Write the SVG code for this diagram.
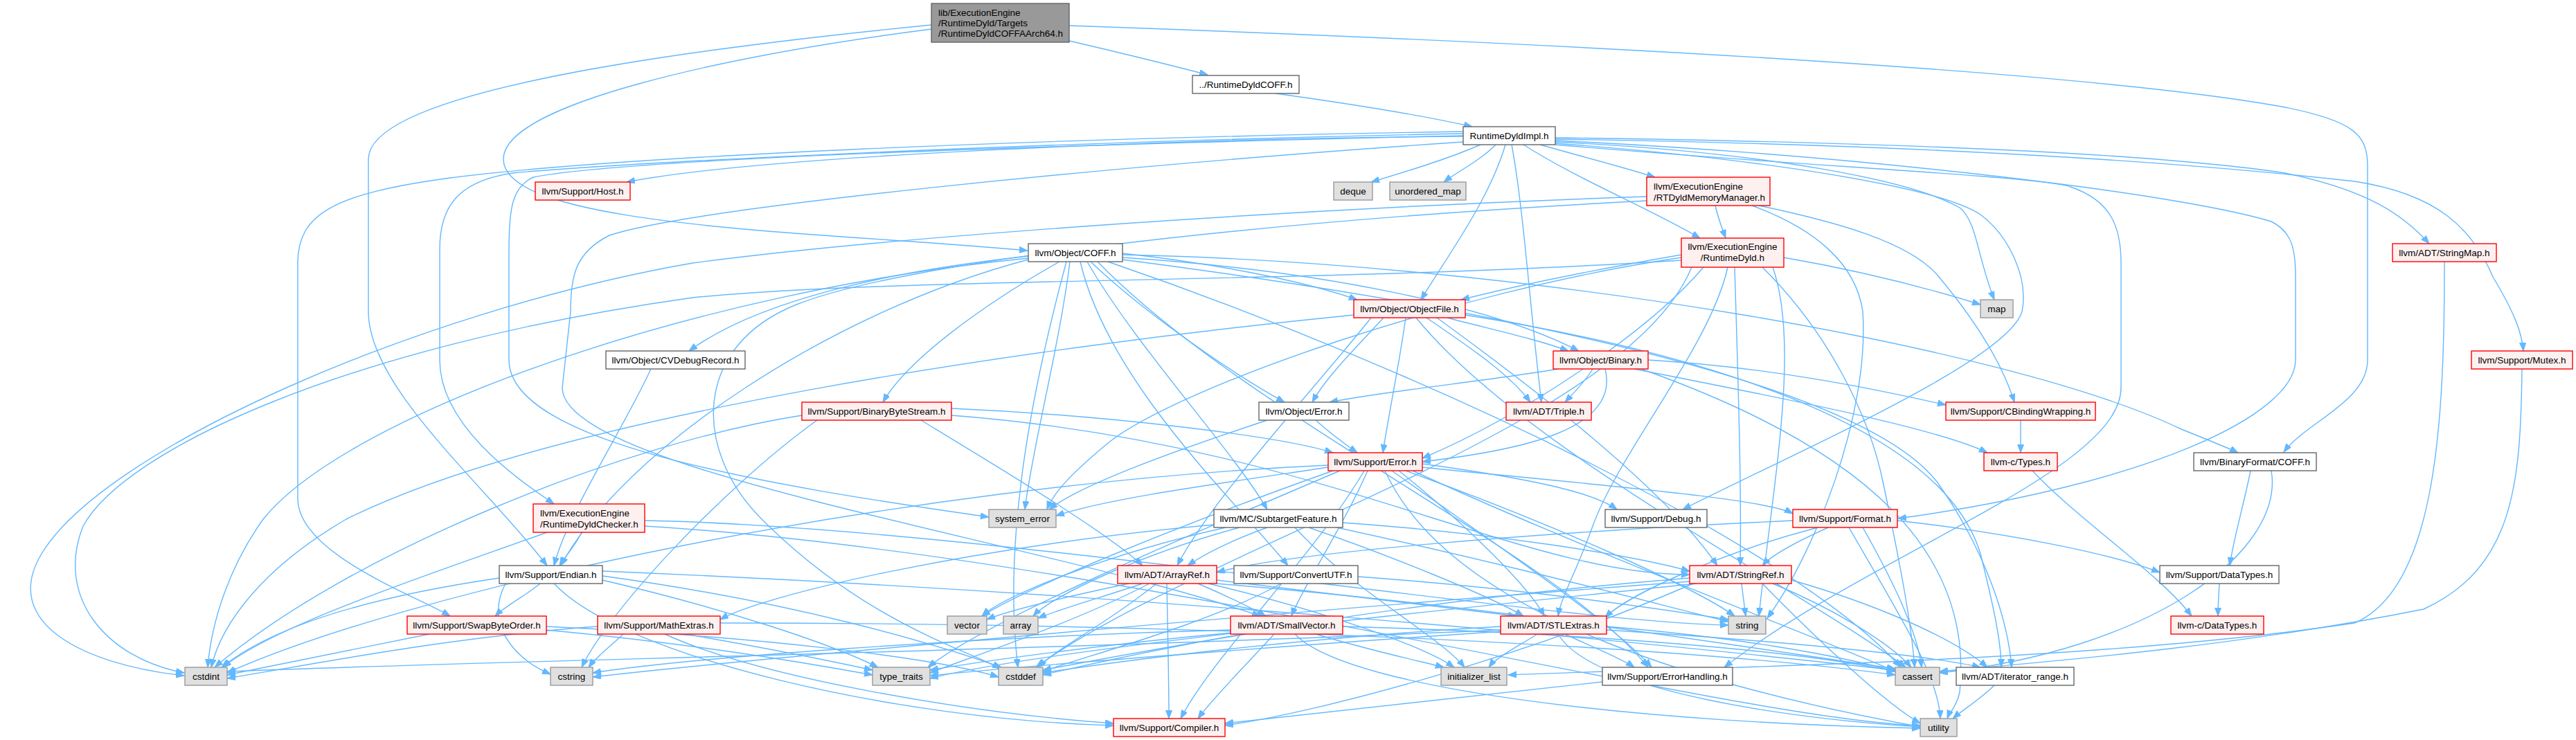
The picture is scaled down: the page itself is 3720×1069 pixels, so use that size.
<svg xmlns="http://www.w3.org/2000/svg" width="3720" height="1069" viewBox="0 0 3720 1069">
<defs>
<style>
.e path{fill:none;stroke:#63b8ff;stroke-width:1.4;marker-end:url(#a)}
.n rect{fill:#fff;stroke:#666;stroke-width:1.4}
.r rect{fill:#fff0f0;stroke:#f00;stroke-width:1.4}
.g rect{fill:#e0e0e0;stroke:#999;stroke-width:1.4}
.o rect{fill:#999;stroke:#666;stroke-width:1.4}
text{font-family:"Liberation Sans",Arial,Helvetica,sans-serif;font-size:13.5px;fill:#000;text-anchor:middle}
text.l{text-anchor:start}
</style>
<marker id="a" markerUnits="userSpaceOnUse" markerWidth="13" markerHeight="10" refX="12" refY="4.5" orient="auto"><path d="M0,0 L12,4.5 L0,9 z" fill="#63b8ff" stroke="#63b8ff" stroke-width="1"/></marker>
</defs>
<rect width="3720" height="1069" fill="#fff"/>
<g id="edges" class="e">
<path d="M1544,59 C1600,72 1690,94 1744,108"/>
<path d="M1544,37 C2200,60 3000,100 3300,155 C3400,175 3419,195 3419,240 L3419,520 C3419,580 3330,610 3298,653"/>
<path d="M1842,135 C1950,150 2060,168 2126,183"/>
<path d="M1345,42 C1050,80 727,150 727,230 C727,330 1200,335 1484,362"/>
<path d="M1345,36 C1000,70 532,130 532,230 L532,450 C532,560 700,700 790,817"/>
<path d="M2113,197 C1700,200 1100,225 905,263"/>
<path d="M2138,209 C2090,230 2030,248 1980,263"/>
<path d="M2160,209 C2140,230 2105,248 2085,263"/>
<path d="M2174,209 C2150,290 2090,370 2052,433"/>
<path d="M2183,209 C2200,300 2210,450 2226,581"/>
<path d="M2200,209 C2280,260 2380,300 2455,344"/>
<path d="M2224,209 C2280,225 2340,240 2390,256"/>
<path d="M2246,199 C2700,205 3100,220 3300,250 C3420,275 3470,310 3508,352"/>
<path d="M2246,201 C2700,208 3100,228 3400,262 C3520,280 3570,330 3600,400 C3630,450 3642,480 3644,507"/>
<path d="M2246,205 C2550,220 2760,260 2830,300 C2855,320 2855,370 2880,433"/>
<path d="M2246,207 C2550,230 2800,270 2860,310 C2900,340 2930,400 2920,450 C2900,520 2600,650 2430,736"/>
<path d="M2246,209 C2600,240 2950,255 2990,270 C3050,290 3063,330 3063,380 L3063,560 C3063,680 2700,800 2490,964"/>
<path d="M2246,203 C2700,225 3150,280 3280,320 C3310,335 3315,360 3315,400 L3315,520 C3315,600 3100,700 2741,749"/>
<path d="M2113,190 C1500,200 900,225 650,257 C480,280 430,310 430,380 L430,720 C430,800 600,860 650,890"/>
<path d="M2113,193 C1500,205 900,235 740,250 C660,262 635,300 635,360 L635,520 C635,620 760,700 800,728"/>
<path d="M2113,196 C1500,210 900,230 770,256 C740,270 735,300 735,360 L735,520 C735,640 1100,700 1428,747"/>
<path d="M2113,205 C1600,240 1000,300 880,340 C830,365 824,400 824,450 L812,560 C812,680 1500,780 1820,890"/>
<path d="M2477,297 C2481,315 2487,330 2492,344"/>
<path d="M2540,297 C2650,320 2760,350 2800,400 C2850,460 2890,520 2909,581"/>
<path d="M2530,297 C2620,330 2680,380 2690,450 C2700,600 2620,800 2552,893"/>
<path d="M2378,284 C1900,300 1300,340 1000,380 C600,450 150,650 60,800 C0,900 120,960 266,976"/>
<path d="M2378,290 C1800,320 1300,380 1150,440 C1000,500 1000,650 1100,750 C1250,900 1400,940 1445,966"/>
<path d="M2428,368 C2330,385 2200,410 2110,433"/>
<path d="M2428,372 C2100,420 1700,560 1600,640 C1540,690 1520,715 1512,736"/>
<path d="M2428,376 C1900,410 1300,400 1000,430 C500,500 180,650 120,760 C80,860 150,950 266,972"/>
<path d="M2443,386 C2348,617 1733,791 1496,964"/>
<path d="M2495,386 C2470,500 2340,650 2300,760 C2275,830 2255,860 2250,890"/>
<path d="M2505,386 C2510,550 2515,700 2513,817"/>
<path d="M2460,386 C2380,480 2200,600 2054,662"/>
<path d="M2576,372 C2680,390 2780,415 2860,440"/>
<path d="M2545,386 C2640,480 2700,600 2720,700 C2745,820 2760,900 2765,964"/>
<path d="M2560,386 C2600,500 2560,700 2540,890"/>
<path d="M1485,370 C1300,390 1100,430 995,507"/>
<path d="M1530,378 C1420,440 1310,520 1275,581"/>
<path d="M1575,378 C1650,450 1780,540 1855,581"/>
<path d="M1621,366 C1750,380 1880,405 1960,433"/>
<path d="M1621,372 C1900,390 2150,440 2280,507"/>
<path d="M1621,368 C2200,380 2900,500 3150,620 C3200,640 3220,648 3232,654"/>
<path d="M1621,375 C2200,450 2700,560 2800,700 C2870,800 2900,900 2905,964"/>
<path d="M1560,378 C1600,550 1780,720 1860,817"/>
<path d="M1570,378 C1640,500 1780,650 1830,736"/>
<path d="M1585,378 C1800,600 2250,800 2380,964"/>
<path d="M1485,375 C1200,450 900,650 810,817"/>
<path d="M1485,373 C1000,420 500,600 380,750 C330,820 305,900 300,964"/>
<path d="M1540,378 C1480,600 1450,800 1470,964"/>
<path d="M1545,378 C1530,500 1490,650 1480,736"/>
<path d="M1600,378 C2100,550 2600,800 2745,964"/>
<path d="M2090,459 C2150,475 2220,490 2265,507"/>
<path d="M1998,459 C1960,500 1915,545 1895,581"/>
<path d="M2030,459 C2020,530 2005,600 1997,654"/>
<path d="M2060,459 C2120,500 2180,540 2210,581"/>
<path d="M1980,459 C1900,560 1750,720 1700,817"/>
<path d="M2075,459 C2200,550 2400,700 2480,817"/>
<path d="M2116,455 C2400,500 2800,600 2860,800 C2880,880 2890,930 2890,964"/>
<path d="M2045,459 C2200,650 2600,850 2752,964"/>
<path d="M1955,455 C1500,500 800,600 500,750 C380,820 320,900 305,964"/>
<path d="M2250,533 C2150,550 2000,565 1920,581"/>
<path d="M2300,533 C2290,550 2275,565 2260,581"/>
<path d="M2318,533 C2340,620 2200,650 2054,667"/>
<path d="M2380,520 C2550,530 2700,560 2810,585"/>
<path d="M2360,533 C2600,580 2800,620 2870,654"/>
<path d="M2370,533 C2700,650 2850,800 2830,1000 C2826,1020 2815,1030 2812,1038"/>
<path d="M1900,607 C1920,625 1940,640 1960,654"/>
<path d="M1830,607 C1700,650 1560,700 1515,736"/>
<path d="M940,533 C900,620 820,740 800,817"/>
<path d="M1158,600 C900,640 500,800 310,964"/>
<path d="M1180,607 C1050,700 880,880 840,964"/>
<path d="M1330,607 C1450,680 1600,770 1650,817"/>
<path d="M1374,600 C1900,640 2190,830 2440,830"/>
<path d="M1374,590 C1600,600 1850,630 1925,654"/>
<path d="M2918,607 C2918,625 2918,640 2918,654"/>
<path d="M2935,680 C3000,750 3120,830 3165,890"/>
<path d="M3250,680 C3240,730 3225,780 3220,817"/>
<path d="M3280,680 C3300,800 3100,940 2801,972"/>
<path d="M3205,843 C3204,860 3203,875 3203,890"/>
<path d="M1918,675 C1750,700 1600,720 1525,745"/>
<path d="M2054,670 C2200,690 2300,710 2335,736"/>
<path d="M2054,675 C2300,700 2550,720 2589,742"/>
<path d="M1918,672 C1300,700 600,850 328,972"/>
<path d="M1970,680 C1900,800 1750,950 1705,1038"/>
<path d="M2010,680 C2150,780 2330,900 2385,964"/>
<path d="M2040,680 C2300,800 2650,930 2737,970"/>
<path d="M2030,680 C2250,760 2450,850 2505,890"/>
<path d="M1935,680 C1700,780 1420,900 1340,964"/>
<path d="M2000,680 C2100,900 2500,1000 2773,1050"/>
<path d="M1925,680 C1700,760 1480,850 1418,890"/>
<path d="M1975,680 C1940,760 1880,850 1865,890"/>
<path d="M2020,680 C2120,760 2210,850 2230,890"/>
<path d="M840,769 C830,790 815,805 808,817"/>
<path d="M790,769 C650,820 400,900 322,964"/>
<path d="M931,752 C1400,760 2250,900 2496,903"/>
<path d="M931,760 C1600,800 2500,1040 2773,1048"/>
<path d="M1830,762 C1780,780 1740,800 1715,817"/>
<path d="M1890,762 C2000,800 2150,860 2200,890"/>
<path d="M1939,755 C2150,770 2350,800 2440,825"/>
<path d="M1753,758 C1400,790 1100,860 1040,895"/>
<path d="M1790,762 C1650,800 1520,860 1492,890"/>
<path d="M1770,762 C1600,800 1450,860 1418,890"/>
<path d="M1870,762 C1950,850 2080,920 2115,964"/>
<path d="M1930,762 C2200,820 2420,880 2496,898"/>
<path d="M2589,752 C2200,770 1850,800 1757,827"/>
<path d="M2640,762 C2600,780 2560,800 2545,817"/>
<path d="M2625,762 C2480,800 2350,860 2318,892"/>
<path d="M2740,752 C2900,770 3050,800 3119,827"/>
<path d="M2690,762 C2740,850 2770,920 2775,964"/>
<path d="M2670,762 C2750,900 2800,980 2802,1038"/>
<path d="M780,843 C760,860 730,875 715,890"/>
<path d="M721,835 C550,860 400,900 320,964"/>
<path d="M730,843 C700,900 740,950 795,974"/>
<path d="M800,843 C900,950 1300,1040 1608,1048"/>
<path d="M870,838 C1050,880 1200,930 1268,964"/>
<path d="M870,832 C1150,870 1350,930 1446,964"/>
<path d="M870,825 C1700,860 2400,930 2737,968"/>
<path d="M1630,843 C1550,860 1460,880 1425,895"/>
<path d="M1650,843 C1600,860 1530,880 1499,893"/>
<path d="M1660,843 C1550,900 1400,950 1343,972"/>
<path d="M1670,843 C1600,900 1520,940 1500,964"/>
<path d="M1685,843 C1686,900 1688,980 1688,1038"/>
<path d="M1730,843 C1770,860 1810,880 1828,890"/>
<path d="M1757,838 C1950,860 2100,880 2190,890"/>
<path d="M1757,843 C2200,880 2550,940 2737,966"/>
<path d="M1745,843 C1900,880 2050,930 2100,964"/>
<path d="M1850,843 C1750,900 1560,950 1506,970"/>
<path d="M1961,833 C2200,850 2400,880 2496,895"/>
<path d="M2515,843 C2517,860 2519,875 2521,890"/>
<path d="M2587,838 C2700,870 2820,920 2870,964"/>
<path d="M2445,843 C2200,950 1900,1030 1769,1048"/>
<path d="M2560,843 C2650,880 2730,930 2760,964"/>
<path d="M2440,835 C2000,870 1700,930 1506,975"/>
<path d="M2440,840 C1900,880 1100,950 856,978"/>
<path d="M2450,843 C2000,890 1500,940 1343,980"/>
<path d="M2545,843 C2650,950 2730,1020 2773,1045"/>
<path d="M620,916 C500,940 400,960 328,975"/>
<path d="M789,910 C1000,930 1150,955 1260,975"/>
<path d="M789,905 C1100,920 1350,950 1442,978"/>
<path d="M863,905 C650,920 450,960 328,980"/>
<path d="M900,916 C880,935 860,950 850,964"/>
<path d="M990,916 C1100,935 1200,955 1260,968"/>
<path d="M960,916 C1100,980 1400,1030 1608,1045"/>
<path d="M1040,900 C1700,900 2400,930 2737,975"/>
<path d="M1840,916 C1800,960 1750,1010 1730,1038"/>
<path d="M1939,905 C2300,915 2600,940 2737,970"/>
<path d="M1800,916 C1650,940 1550,960 1506,968"/>
<path d="M1777,910 C1400,920 1000,950 856,972"/>
<path d="M1900,916 C1980,940 2050,955 2085,964"/>
<path d="M1780,914 C1600,930 1420,955 1343,968"/>
<path d="M1870,916 C1950,1000 2400,1045 2773,1052"/>
<path d="M2220,916 C2190,935 2160,950 2150,964"/>
<path d="M2260,916 C2300,935 2340,950 2360,964"/>
<path d="M2320,905 C2500,920 2650,945 2737,970"/>
<path d="M2320,910 C2550,925 2780,945 2860,964"/>
<path d="M2167,905 C1900,920 1650,950 1506,972"/>
<path d="M2167,910 C1500,940 700,955 328,970"/>
<path d="M2170,912 C1900,930 1500,960 1343,976"/>
<path d="M2250,916 C2300,1000 2600,1040 2773,1050"/>
<path d="M2314,985 C2100,1010 1900,1030 1769,1045"/>
<path d="M2880,990 C2860,1010 2835,1025 2820,1038"/>
<path d="M3530,378 C3530,600 3520,850 3400,900 C3000,960 2400,965 2178,975"/>
<path d="M3642,533 C3640,700 3630,820 3500,880 C3200,940 2900,960 2801,970"/>
</g>
<g id="node1" class="o"><rect x="1345" y="5" width="199" height="56"/><text class="l" x="1355" y="23">lib/ExecutionEngine</text><text class="l" x="1355" y="38">/RuntimeDyld/Targets</text><text class="l" x="1355" y="53">/RuntimeDyldCOFFAArch64.h</text></g>
<g id="node2" class="n"><rect x="1722" y="109" width="154" height="26"/><text x="1799" y="127">../RuntimeDyldCOFF.h</text></g>
<g id="node3" class="n"><rect x="2113" y="183" width="133" height="26"/><text x="2179.5" y="201">RuntimeDyldImpl.h</text></g>
<g id="node4" class="r"><rect x="773" y="263" width="137" height="26"/><text x="841.5" y="281">llvm/Support/Host.h</text></g>
<g id="node5" class="g"><rect x="1926" y="263" width="56" height="26"/><text x="1954" y="281">deque</text></g>
<g id="node6" class="g"><rect x="2007" y="263" width="110" height="26"/><text x="2062" y="281">unordered_map</text></g>
<g id="node7" class="r"><rect x="2378" y="256" width="178" height="41"/><text class="l" x="2388" y="274">llvm/ExecutionEngine</text><text class="l" x="2388" y="290">/RTDyldMemoryManager.h</text></g>
<g id="node8" class="r"><rect x="2428" y="344" width="148" height="42"/><text x="2502" y="361">llvm/ExecutionEngine</text><text x="2502" y="377">/RuntimeDyld.h</text></g>
<g id="node9" class="r"><rect x="3455" y="352" width="150" height="26"/><text x="3530" y="370">llvm/ADT/StringMap.h</text></g>
<g id="node10" class="n"><rect x="1485" y="352" width="136" height="26"/><text x="1553" y="370">llvm/Object/COFF.h</text></g>
<g id="node11" class="r"><rect x="1955" y="433" width="161" height="26"/><text x="2035.5" y="451">llvm/Object/ObjectFile.h</text></g>
<g id="node12" class="g"><rect x="2860" y="433" width="47" height="26"/><text x="2883.5" y="451">map</text></g>
<g id="node13" class="n"><rect x="875" y="507" width="201" height="26"/><text x="975.5" y="525">llvm/Object/CVDebugRecord.h</text></g>
<g id="node14" class="r"><rect x="2243" y="507" width="137" height="26"/><text x="2311.5" y="525">llvm/Object/Binary.h</text></g>
<g id="node15" class="r"><rect x="3569" y="507" width="146" height="26"/><text x="3642" y="525">llvm/Support/Mutex.h</text></g>
<g id="node16" class="r"><rect x="1158" y="581" width="216" height="26"/><text x="1266" y="599">llvm/Support/BinaryByteStream.h</text></g>
<g id="node17" class="n"><rect x="1818" y="581" width="130" height="26"/><text x="1883" y="599">llvm/Object/Error.h</text></g>
<g id="node18" class="r"><rect x="2175" y="581" width="123" height="26"/><text x="2236.5" y="599">llvm/ADT/Triple.h</text></g>
<g id="node19" class="r"><rect x="2810" y="581" width="216" height="26"/><text x="2918" y="599">llvm/Support/CBindingWrapping.h</text></g>
<g id="node20" class="r"><rect x="1918" y="654" width="136" height="26"/><text x="1986" y="672">llvm/Support/Error.h</text></g>
<g id="node21" class="r"><rect x="2865" y="654" width="106" height="26"/><text x="2918" y="672">llvm-c/Types.h</text></g>
<g id="node22" class="n"><rect x="3168" y="654" width="177" height="26"/><text x="3256.5" y="672">llvm/BinaryFormat/COFF.h</text></g>
<g id="node23" class="r"><rect x="770" y="728" width="161" height="41"/><text class="l" x="780" y="746">llvm/ExecutionEngine</text><text class="l" x="780" y="762">/RuntimeDyldChecker.h</text></g>
<g id="node24" class="g"><rect x="1428" y="736" width="97" height="26"/><text x="1476.5" y="754">system_error</text></g>
<g id="node25" class="n"><rect x="1753" y="736" width="186" height="26"/><text x="1846" y="754">llvm/MC/SubtargetFeature.h</text></g>
<g id="node26" class="n"><rect x="2318" y="736" width="147" height="26"/><text x="2391.5" y="754">llvm/Support/Debug.h</text></g>
<g id="node27" class="r"><rect x="2589" y="736" width="151" height="26"/><text x="2664.5" y="754">llvm/Support/Format.h</text></g>
<g id="node28" class="n"><rect x="721" y="817" width="149" height="26"/><text x="795.5" y="835">llvm/Support/Endian.h</text></g>
<g id="node29" class="r"><rect x="1614" y="817" width="143" height="26"/><text x="1685.5" y="835">llvm/ADT/ArrayRef.h</text></g>
<g id="node30" class="n"><rect x="1782" y="817" width="179" height="26"/><text x="1871.5" y="835">llvm/Support/ConvertUTF.h</text></g>
<g id="node31" class="r"><rect x="2440" y="817" width="147" height="26"/><text x="2513.5" y="835">llvm/ADT/StringRef.h</text></g>
<g id="node32" class="n"><rect x="3119" y="817" width="172" height="26"/><text x="3205" y="835">llvm/Support/DataTypes.h</text></g>
<g id="node33" class="r"><rect x="588" y="890" width="201" height="26"/><text x="688.5" y="908">llvm/Support/SwapByteOrder.h</text></g>
<g id="node34" class="r"><rect x="863" y="890" width="177" height="26"/><text x="951.5" y="908">llvm/Support/MathExtras.h</text></g>
<g id="node35" class="g"><rect x="1368" y="890" width="57" height="26"/><text x="1396.5" y="908">vector</text></g>
<g id="node36" class="g"><rect x="1449" y="890" width="50" height="26"/><text x="1474" y="908">array</text></g>
<g id="node37" class="r"><rect x="1777" y="890" width="162" height="26"/><text x="1858" y="908">llvm/ADT/SmallVector.h</text></g>
<g id="node38" class="r"><rect x="2167" y="890" width="153" height="26"/><text x="2243.5" y="908">llvm/ADT/STLExtras.h</text></g>
<g id="node39" class="g"><rect x="2496" y="890" width="54" height="26"/><text x="2523" y="908">string</text></g>
<g id="node40" class="r"><rect x="3135" y="890" width="134" height="26"/><text x="3202" y="908">llvm-c/DataTypes.h</text></g>
<g id="node41" class="g"><rect x="267" y="964" width="61" height="26"/><text x="297.5" y="982">cstdint</text></g>
<g id="node42" class="g"><rect x="795" y="964" width="61" height="26"/><text x="825.5" y="982">cstring</text></g>
<g id="node43" class="g"><rect x="1260" y="964" width="83" height="26"/><text x="1301.5" y="982">type_traits</text></g>
<g id="node44" class="g"><rect x="1442" y="964" width="64" height="26"/><text x="1474" y="982">cstddef</text></g>
<g id="node45" class="g"><rect x="2081" y="964" width="95" height="26"/><text x="2128.5" y="982">initializer_list</text></g>
<g id="node46" class="n"><rect x="2314" y="964" width="188" height="26"/><text x="2408" y="982">llvm/Support/ErrorHandling.h</text></g>
<g id="node47" class="g"><rect x="2737" y="964" width="64" height="26"/><text x="2769" y="982">cassert</text></g>
<g id="node48" class="n"><rect x="2825" y="964" width="170" height="26"/><text x="2910" y="982">llvm/ADT/iterator_range.h</text></g>
<g id="node49" class="r"><rect x="1608" y="1038" width="161" height="26"/><text x="1688.5" y="1056">llvm/Support/Compiler.h</text></g>
<g id="node50" class="g"><rect x="2773" y="1038" width="53" height="26"/><text x="2799.5" y="1056">utility</text></g>
</svg>
